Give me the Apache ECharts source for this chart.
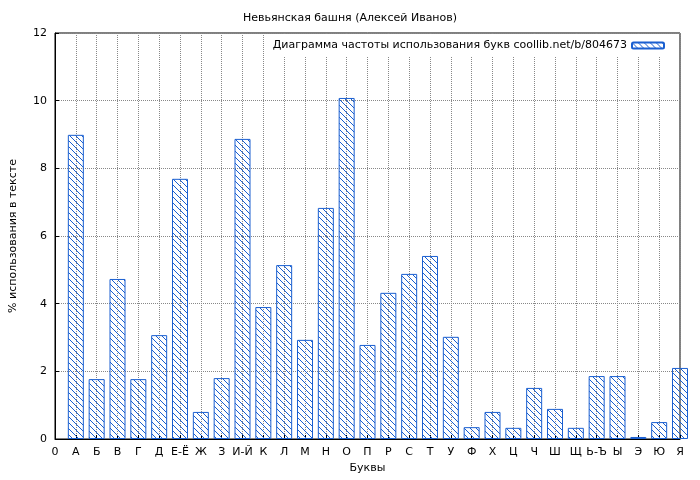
<!DOCTYPE html>
<html lang="ru">
<head>
<meta charset="UTF-8">
<title>Невьянская башня</title>
<script src="https://cdn.jsdelivr.net/npm/echarts@6/dist/echarts.min.js"></script>
</head>
<body style="margin:0">
<div id="main" style="width:700px;height:480px;"></div>
<script>
const tickLabels = ['0', 'А', 'Б', 'В', 'Г', 'Д', 'Е-Ё', 'Ж', 'З', 'И-Й', 'К', 'Л', 'М', 'Н', 'О', 'П',
    'Р', 'С', 'Т', 'У', 'Ф', 'Х', 'Ц', 'Ч', 'Ш', 'Щ', 'Ь-Ъ', 'Ы', 'Э', 'Ю', 'Я'];
const letters = tickLabels.slice(1);
const percents = [8.99, 1.77, 4.73, 1.77, 3.07, 7.69, 0.80, 1.80, 8.87, 3.90, 5.14, 2.93, 6.83, 10.08, 2.78,
    4.32, 4.88, 5.41, 3.02, 0.35, 0.80, 0.33, 1.51, 0.89, 0.33, 1.86, 1.86, 0.06, 0.50, 2.10];

const blue = '#1a5fd0';

// hatch pattern "\\\"
const pat = document.createElement('canvas');
pat.width = 6; pat.height = 6;
const ctx = pat.getContext('2d');
ctx.strokeStyle = blue;
ctx.lineWidth = 1;
ctx.beginPath();
ctx.moveTo(-1, -1); ctx.lineTo(7, 7);
ctx.moveTo(-1, 5); ctx.lineTo(1, 7);
ctx.moveTo(5, -1); ctx.lineTo(7, 1);
ctx.stroke();
const hatch = { image: pat, repeat: 'repeat' };

const chart = echarts.init(document.getElementById('main'));
const font = 'DejaVu Sans';
chart.setOption({
    backgroundColor: '#fff',
    textStyle: { fontFamily: font },
    title: {
        text: 'Невьянская башня (Алексей Иванов)', left: 'center', top: 8,
        textStyle: { fontSize: 11, fontWeight: 'normal', color: '#000', fontFamily: font }
    },
    legend: {
        right: 30, top: 35, itemWidth: 32, itemHeight: 6, itemGap: 6,
        backgroundColor: '#fff',
        textStyle: { fontSize: 11, color: '#000' },
        data: [{ name: 'Диаграмма частоты использования букв coollib.net/b/804673' }],
        align: 'right'
    },
    grid: { left: 52, right: 20, top: 33, bottom: 41, show: true, borderColor: '#000', borderWidth: 1 },
    xAxis: {
        type: 'value', min: 0, max: 30, interval: 1,
        name: 'Буквы', nameLocation: 'middle', nameGap: 24,
        nameTextStyle: { fontSize: 11, color: '#000' },
        axisLine: { lineStyle: { color: '#000' } },
        axisTick: { show: true, inside: true, length: 4, lineStyle: { color: '#000' } },
        axisLabel: { fontSize: 11, color: '#000', formatter: v => tickLabels[v] },
        splitLine: { show: true, lineStyle: { type: 'dotted', color: '#888' } }
    },
    yAxis: {
        type: 'value', min: 0, max: 12, interval: 2,
        name: '% использования в тексте', nameLocation: 'middle', nameGap: 36,
        nameTextStyle: { fontSize: 11, color: '#000' },
        axisLine: { show: true, lineStyle: { color: '#000' } },
        axisTick: { show: true, inside: true, length: 4, lineStyle: { color: '#000' } },
        axisLabel: { fontSize: 11, color: '#000' },
        splitLine: { show: true, lineStyle: { type: 'dotted', color: '#888' } }
    },
    series: [{
        name: 'Диаграмма частоты использования букв coollib.net/b/804673',
        type: 'bar', barWidth: 16, clip: true,
        itemStyle: { color: hatch, borderColor: blue, borderWidth: 1 },
        data: percents.map((v, i) => [i + 1, v])
    }]
});
</script>
</body>
</html>
